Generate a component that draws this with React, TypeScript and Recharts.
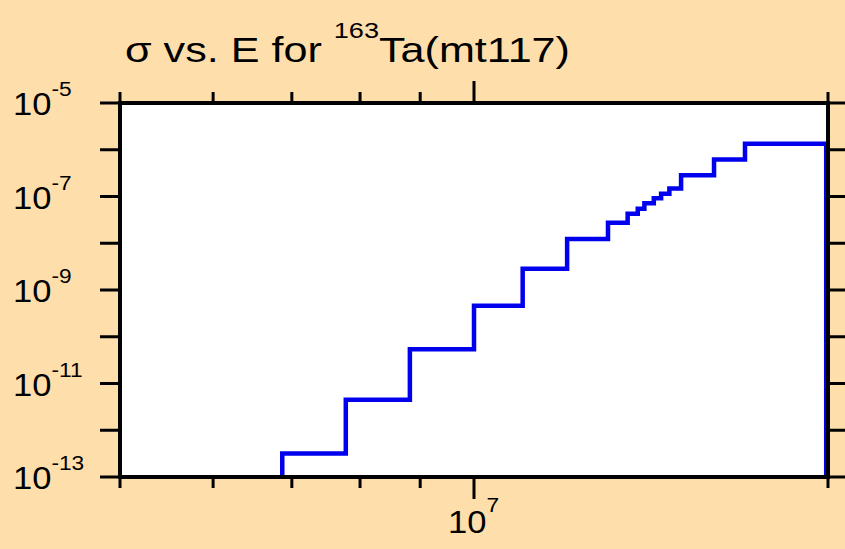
import React from 'react';
import { LineChart, Line, XAxis, YAxis, CartesianGrid } from 'recharts';

// Energy (eV) at which each step starts
const stepEnergies = [6.87e6, 7.78e6, 8.82e6, 1.0e7, 1.1e7, 1.2e7, 1.3e7, 1.351e7, 1.378e7, 1.396e7, 1.422e7, 1.4425e7, 1.466e7, 1.5e7, 1.6e7, 1.7e7];
// Cross section (b) on each step
const sigmaValues = [3.18e-13, 4.5e-12, 5.4e-11, 4.6e-10, 2.84e-9, 1.24e-8, 2.73e-8, 4.26e-8, 5.44e-8, 7.13e-8, 9.12e-8, 1.14e-7, 1.49e-7, 2.85e-7, 6.15e-7, 1.35e-6];
const endEnergy = 1.993e7;
const floorSigma = 1e-13;

const xTicks = [5e6, 6e6, 7e6, 8e6, 9e6, 1e7, 2e7];
const xLabeled = [1e7];
const yTicks = [1e-13, 1e-12, 1e-11, 1e-10, 1e-9, 1e-8, 1e-7, 1e-6, 1e-5];
const yLabeledExps = [-13, -11, -9, -7, -5];
const titleMain = 'σ vs. E for ';
const titleSup = '163';
const titleTail = 'Ta(mt117)';

const data = [
  { E: stepEnergies[0], v: floorSigma },
  ...stepEnergies.map((e, i) => ({ E: e, v: sigmaValues[i] })),
  { E: endEnergy, v: floorSigma },
];

const FONT = '"Liberation Sans", Arial, sans-serif';
const BG = '#FEDEAB';

const expOf = (v: number) => Math.round(Math.log10(v));
const isMajorX = (v: number) => xLabeled.some((t) => Math.abs(t - v) / t < 1e-6);

const BottomTick = (props: any) => {
  const { x, y, payload } = props;
  const major = isMajorX(payload.value);
  return (
    <g>
      <line x1={x} x2={x} y1={y} y2={y + (major ? 22 : 11)} stroke="#000" strokeWidth={3} />
      {major && (
        <text
          transform={`translate(${x - 26} ${y + 56}) scale(1.08 1)`}
          fontFamily={FONT}
          fontSize={32}
          fill="#000"
        >
          10
          <tspan dy={-21} fontSize={21}>{String(expOf(payload.value))}</tspan>
        </text>
      )}
    </g>
  );
};

const TopTick = (props: any) => {
  const { x, y, payload } = props;
  const major = isMajorX(payload.value);
  return <line x1={x} x2={x} y1={y} y2={y - (major ? 22 : 11)} stroke="#000" strokeWidth={3} />;
};

const LeftTick = (props: any) => {
  const { x, y, payload } = props;
  const e = expOf(payload.value);
  const labeled = yLabeledExps.includes(e);
  return (
    <g>
      <line x1={x} x2={x - 20} y1={y} y2={y} stroke="#000" strokeWidth={3} />
      {labeled && (
        <text
          transform={`translate(13 ${y + 12}) scale(1.08 1)`}
          fontFamily={FONT}
          fontSize={32}
          fill="#000"
        >
          10
          <tspan dy={-19} fontSize={21}>{String(e)}</tspan>
        </text>
      )}
    </g>
  );
};

const RightTick = (props: any) => {
  const { x, y } = props;
  return <line x1={x} x2={x + 20} y1={y} y2={y} stroke="#000" strokeWidth={3} />;
};

const axisLineStyle = { stroke: '#000', strokeWidth: 4, strokeLinecap: 'square' as const };

export default function App() {
  return (
    <div style={{ position: 'absolute', left: 0, top: 0, width: 845, height: 549, background: BG, overflow: 'hidden' }}>
      <LineChart width={845} height={549} data={data} margin={{ top: 0, right: 0, bottom: 0, left: 0 }}>
        <CartesianGrid horizontal={false} vertical={false} fill="#ffffff" />
        <XAxis
          dataKey="E"
          type="number"
          scale="log"
          domain={[5e6, 2e7]}
          allowDataOverflow
          ticks={xTicks}
          interval={0}
          height={72}
          tickSize={0}
          tickMargin={0}
          tick={BottomTick}
          tickLine={false}
          axisLine={axisLineStyle}
        />
        <XAxis
          xAxisId="top"
          orientation="top"
          dataKey="E"
          type="number"
          scale="log"
          domain={[5e6, 2e7]}
          allowDataOverflow
          ticks={xTicks}
          interval={0}
          height={103}
          tickSize={0}
          tickMargin={0}
          tick={TopTick}
          tickLine={false}
          axisLine={axisLineStyle}
        />
        <YAxis
          type="number"
          scale="log"
          domain={[1e-13, 1e-5]}
          allowDataOverflow
          ticks={yTicks}
          interval={0}
          width={120}
          tickSize={0}
          tickMargin={0}
          tick={LeftTick}
          tickLine={false}
          axisLine={axisLineStyle}
        />
        <YAxis
          yAxisId="right"
          orientation="right"
          type="number"
          scale="log"
          domain={[1e-13, 1e-5]}
          allowDataOverflow
          ticks={yTicks}
          interval={0}
          width={17}
          tickSize={0}
          tickMargin={0}
          tick={RightTick}
          tickLine={false}
          axisLine={axisLineStyle}
        />
        <Line
          type="stepAfter"
          dataKey="v"
          stroke="#0000ee"
          strokeWidth={4.5}
          dot={false}
          activeDot={false}
          isAnimationActive={false}
        />
      </LineChart>
      <svg
        width={845}
        height={100}
        style={{ position: 'absolute', left: 0, top: 0, pointerEvents: 'none' }}
      >
        <text
          x={125}
          y={62}
          fontFamily={FONT}
          fontSize={35}
          fill="#000"
          textLength={445}
          lengthAdjust="spacingAndGlyphs"
        >
          {titleMain}
          <tspan dy={-24} fontSize={22}>{titleSup}</tspan>
          <tspan dy={24}>{titleTail}</tspan>
        </text>
      </svg>
    </div>
  );
}
